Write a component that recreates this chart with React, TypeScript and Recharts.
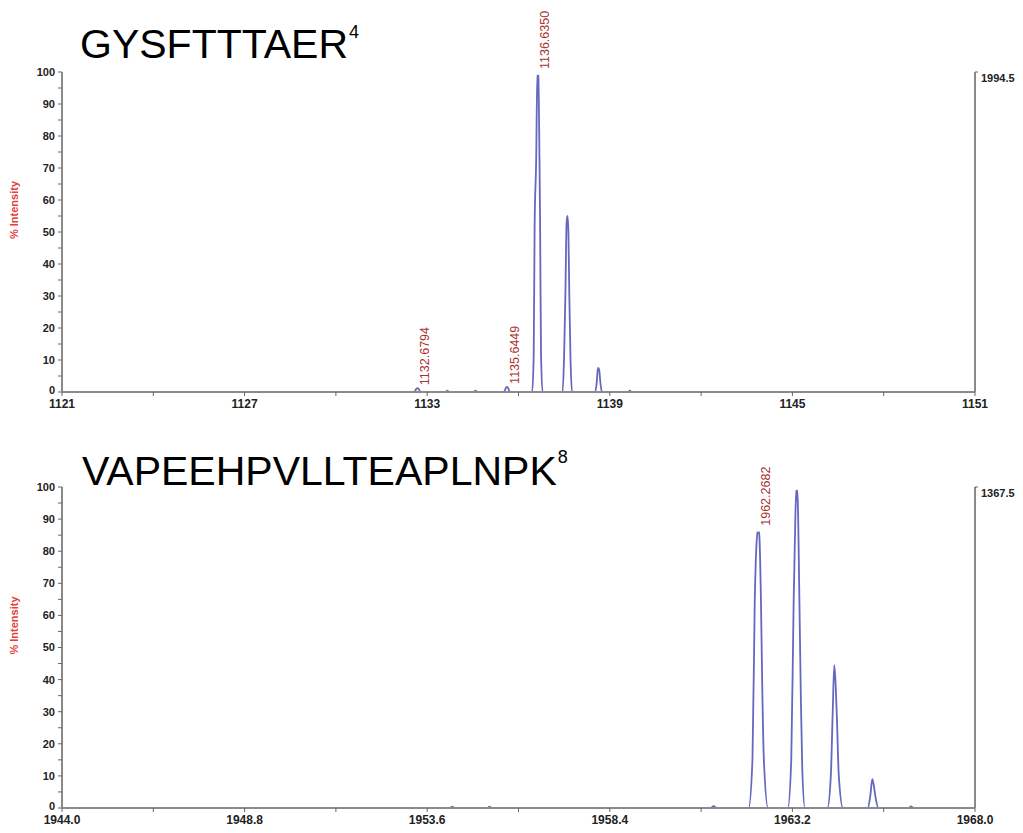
import { LineChart, Line, XAxis, YAxis, LabelList, Label } from "recharts";

// GYSFTTTAER (z=4 cluster) profile
const topMz = [
  1121.0, 1132.58, 1132.64, 1132.68, 1132.72, 1132.78, 1133.6, 1133.66, 1133.72,
  1134.53, 1134.59, 1134.65, 1135.52, 1135.58, 1135.62, 1135.66, 1135.72,
  1136.45, 1136.5, 1136.53, 1136.58, 1136.62, 1136.65, 1136.69, 1136.71, 1136.74, 1136.79,
  1137.45, 1137.5, 1137.54, 1137.58, 1137.61, 1137.64, 1137.67, 1137.71, 1137.76,
  1138.52, 1138.57, 1138.61, 1138.65, 1138.69, 1138.74, 1139.6, 1139.66, 1139.72, 1151.0,
];
const topIntensity = [
  0, 0, 1, 1.2, 1, 0, 0, 0.4, 0,
  0, 0.4, 0, 0, 1.2, 1.6, 1.2, 0,
  0, 12, 52, 72, 100, 99, 72, 52, 12, 0,
  0, 12, 30, 53, 55, 50, 30, 10, 0,
  0, 3, 7.5, 7, 3, 0, 0, 0.4, 0, 0,
];
const topPeakMz = [1132.68, 1135.62, 1136.62];
const topPeakIntensity = [1.2, 1.6, 100];
const topPeakText = ["1132.6794", "1135.6449", "1136.6350"];
const topTicks = [1121, 1124, 1127, 1130, 1133, 1136, 1139, 1142, 1145, 1148, 1151];
const topMaxAbs = 1994.5;
const topBaseMz = 1136.62;

// VAPEEHPVLLTEAPLNPK (z=8 cluster)
const botMz = [
  1944.0, 1954.2, 1954.26, 1954.32, 1955.18, 1955.24, 1955.3, 1961.05, 1961.13, 1961.21,
  1962.05, 1962.15, 1962.21, 1962.26, 1962.3, 1962.33, 1962.37, 1962.41, 1962.45, 1962.56,
  1963.08, 1963.17, 1963.23, 1963.28, 1963.31, 1963.34, 1963.38, 1963.42, 1963.46, 1963.53,
  1964.12, 1964.21, 1964.26, 1964.3, 1964.33, 1964.37, 1964.42, 1964.53,
  1965.18, 1965.25, 1965.3, 1965.34, 1965.39, 1965.46, 1966.26, 1966.32, 1966.38, 1968.0,
];
const botIntensity = [
  0, 0, 0.4, 0, 0, 0.4, 0, 0, 0.6, 0,
  0, 15, 64, 83, 87, 85, 67, 36, 15, 0,
  0, 15, 62, 92, 100, 96, 68, 36, 12, 0,
  0, 10, 30, 44.5, 40, 28, 10, 0,
  0, 4, 9, 7, 3, 0, 0, 0.5, 0, 0,
];
const botPeakMz = [1962.3];
const botPeakIntensity = [87];
const botPeakText = ["1962.2682"];
const botTicks = [1944.0, 1946.4, 1948.8, 1951.2, 1953.6, 1956.0, 1958.4, 1960.8, 1963.2, 1965.6, 1968.0];
const botMaxAbs = 1367.5;
const botBaseMz = 1963.31;

const yTicks = [0, 5, 10, 15, 20, 25, 30, 35, 40, 45, 50, 55, 60, 65, 70, 75, 80, 85, 90, 95, 100];

const FONT = "'Liberation Sans', Arial, sans-serif";
const AXIS = "#8a8a8a";
const TRACE = "#6468bf";

const PeakLabel = (props: any) => {
  const { x, y, value } = props;
  const tx = x + 12;
  const ty = y - 3;
  return (
    <text x={tx} y={ty} transform={`rotate(-90 ${tx} ${ty})`} fontSize={12.5} fill="#a8322f" fontFamily={FONT}>
      {value}
    </text>
  );
};

const AbsTick = (props: any) => {
  const { x, y, payload } = props;
  return (
    <text x={x} y={y + 10} fontSize={11} fontWeight={700} fill="#222" fontFamily={FONT}>
      {Number(payload.value).toFixed(1)}
    </text>
  );
};

const PctTick = (props: any) => {
  const { x, y, payload } = props;
  const v = payload.value;
  if (v % 10 !== 0) return <g />;
  return (
    <text x={x} y={v === 0 ? y - 2 : y} dy="0.355em" textAnchor="end" fontSize={11} fontWeight={700} fill="#222" fontFamily={FONT}>
      {v}
    </text>
  );
};

const IntensityTitle = (props: any) => {
  const vb = props.viewBox;
  const tx = vb.x - 4;
  const ty = vb.y + vb.height / 2 - 22;
  return (
    <text x={tx} y={ty} transform={`rotate(-90 ${tx} ${ty})`} textAnchor="middle" fontSize={11} fontWeight={700} fill="#e4403a" fontFamily={FONT}>
      % Intensity
    </text>
  );
};

interface PanelProps {
  mz: number[];
  intensity: number[];
  peakMz: number[];
  peakIntensity: number[];
  peakText: string[];
  ticks: number[];
  maxAbs: number;
  baseMz: number;
  height: number;
  top: number;
  bottom: number;
  decimals: number;
}

function Spectrum(p: PanelProps) {
  const profile = p.mz.map((m, i) => ({ mz: m, i: p.intensity[i] }));
  const peaks = p.peakMz.map((m, i) => ({ mz: m, i: p.peakIntensity[i], text: p.peakText[i] }));
  const absData = [{ mz: p.baseMz, a: p.maxAbs }];
  const lo = p.ticks[0];
  const hi = p.ticks[p.ticks.length - 1];
  return (
    <LineChart width={1023} height={p.height} margin={{ top: p.top, right: 0, bottom: p.bottom, left: 22 }}>
      <XAxis
        dataKey="mz"
        type="number"
        domain={[lo, hi]}
        ticks={p.ticks}
        interval={0}
        allowDataOverflow
        height={20}
        tickSize={4}
        tickMargin={3}
        tickFormatter={(v: number, idx: number) => (idx % 2 === 0 ? v.toFixed(p.decimals) : "")}
        tick={{ fontSize: 12, fontWeight: 700, fill: "#222", fontFamily: FONT }}
        axisLine={{ stroke: AXIS, strokeWidth: 2 }}
        tickLine={{ stroke: "#666" }}
      />
      <YAxis
        yAxisId="pct"
        type="number"
        domain={[0, 100]}
        ticks={yTicks}
        interval={0}
        width={40}
        tickSize={4}
        tickMargin={3}
        tick={PctTick}
        axisLine={{ stroke: AXIS, strokeWidth: 2 }}
        tickLine={{ stroke: "#666" }}
      >
        <Label content={IntensityTitle} />
      </YAxis>
      <YAxis
        yAxisId="abs"
        orientation="right"
        type="number"
        domain={[0, p.maxAbs]}
        ticks={[p.maxAbs]}
        interval={0}
        width={48}
        tickSize={3}
        tickMargin={3}
        tick={AbsTick}
        axisLine={{ stroke: AXIS, strokeWidth: 2 }}
        tickLine={{ stroke: "#666" }}
      />
      <Line
        yAxisId="abs"
        data={absData}
        dataKey="a"
        stroke="none"
        dot={false}
        isAnimationActive={false}
      />
      <Line
        yAxisId="pct"
        data={profile}
        dataKey="i"
        type="monotone"
        stroke={TRACE}
        strokeWidth={1.8}
        dot={false}
        isAnimationActive={false}
      />
      <Line
        yAxisId="pct"
        data={peaks}
        dataKey="i"
        stroke="none"
        dot={false}
        isAnimationActive={false}
      >
        <LabelList dataKey="text" content={PeakLabel} />
      </Line>
    </LineChart>
  );
}

export default function App() {
  return (
    <div style={{ position: "absolute", left: 0, top: 0, width: 1023, height: 833, background: "#fff", fontFamily: FONT }}>
      <Spectrum
        mz={topMz}
        intensity={topIntensity}
        peakMz={topPeakMz}
        peakIntensity={topPeakIntensity}
        peakText={topPeakText}
        ticks={topTicks}
        maxAbs={topMaxAbs}
        baseMz={topBaseMz}
        height={416}
        top={72}
        bottom={4}
        decimals={0}
      />
      <Spectrum
        mz={botMz}
        intensity={botIntensity}
        peakMz={botPeakMz}
        peakIntensity={botPeakIntensity}
        peakText={botPeakText}
        ticks={botTicks}
        maxAbs={botMaxAbs}
        baseMz={botBaseMz}
        height={417}
        top={71}
        bottom={5}
        decimals={1}
      />
      <svg width={1023} height={833} style={{ position: "absolute", left: 0, top: 0, pointerEvents: "none" }}>
        <text x={80} y={58} fontSize={41} fill="#000" fontFamily={FONT}>
          GYSFTTTAER
          <tspan fontSize={18} dx={1} dy={-20}>4</tspan>
        </text>
        <text x={82} y={485} fontSize={41} fill="#000" fontFamily={FONT}>
          VAPEEHPVLLTEAPLNPK
          <tspan fontSize={18} dx={1} dy={-22}>8</tspan>
        </text>
      </svg>
    </div>
  );
}
